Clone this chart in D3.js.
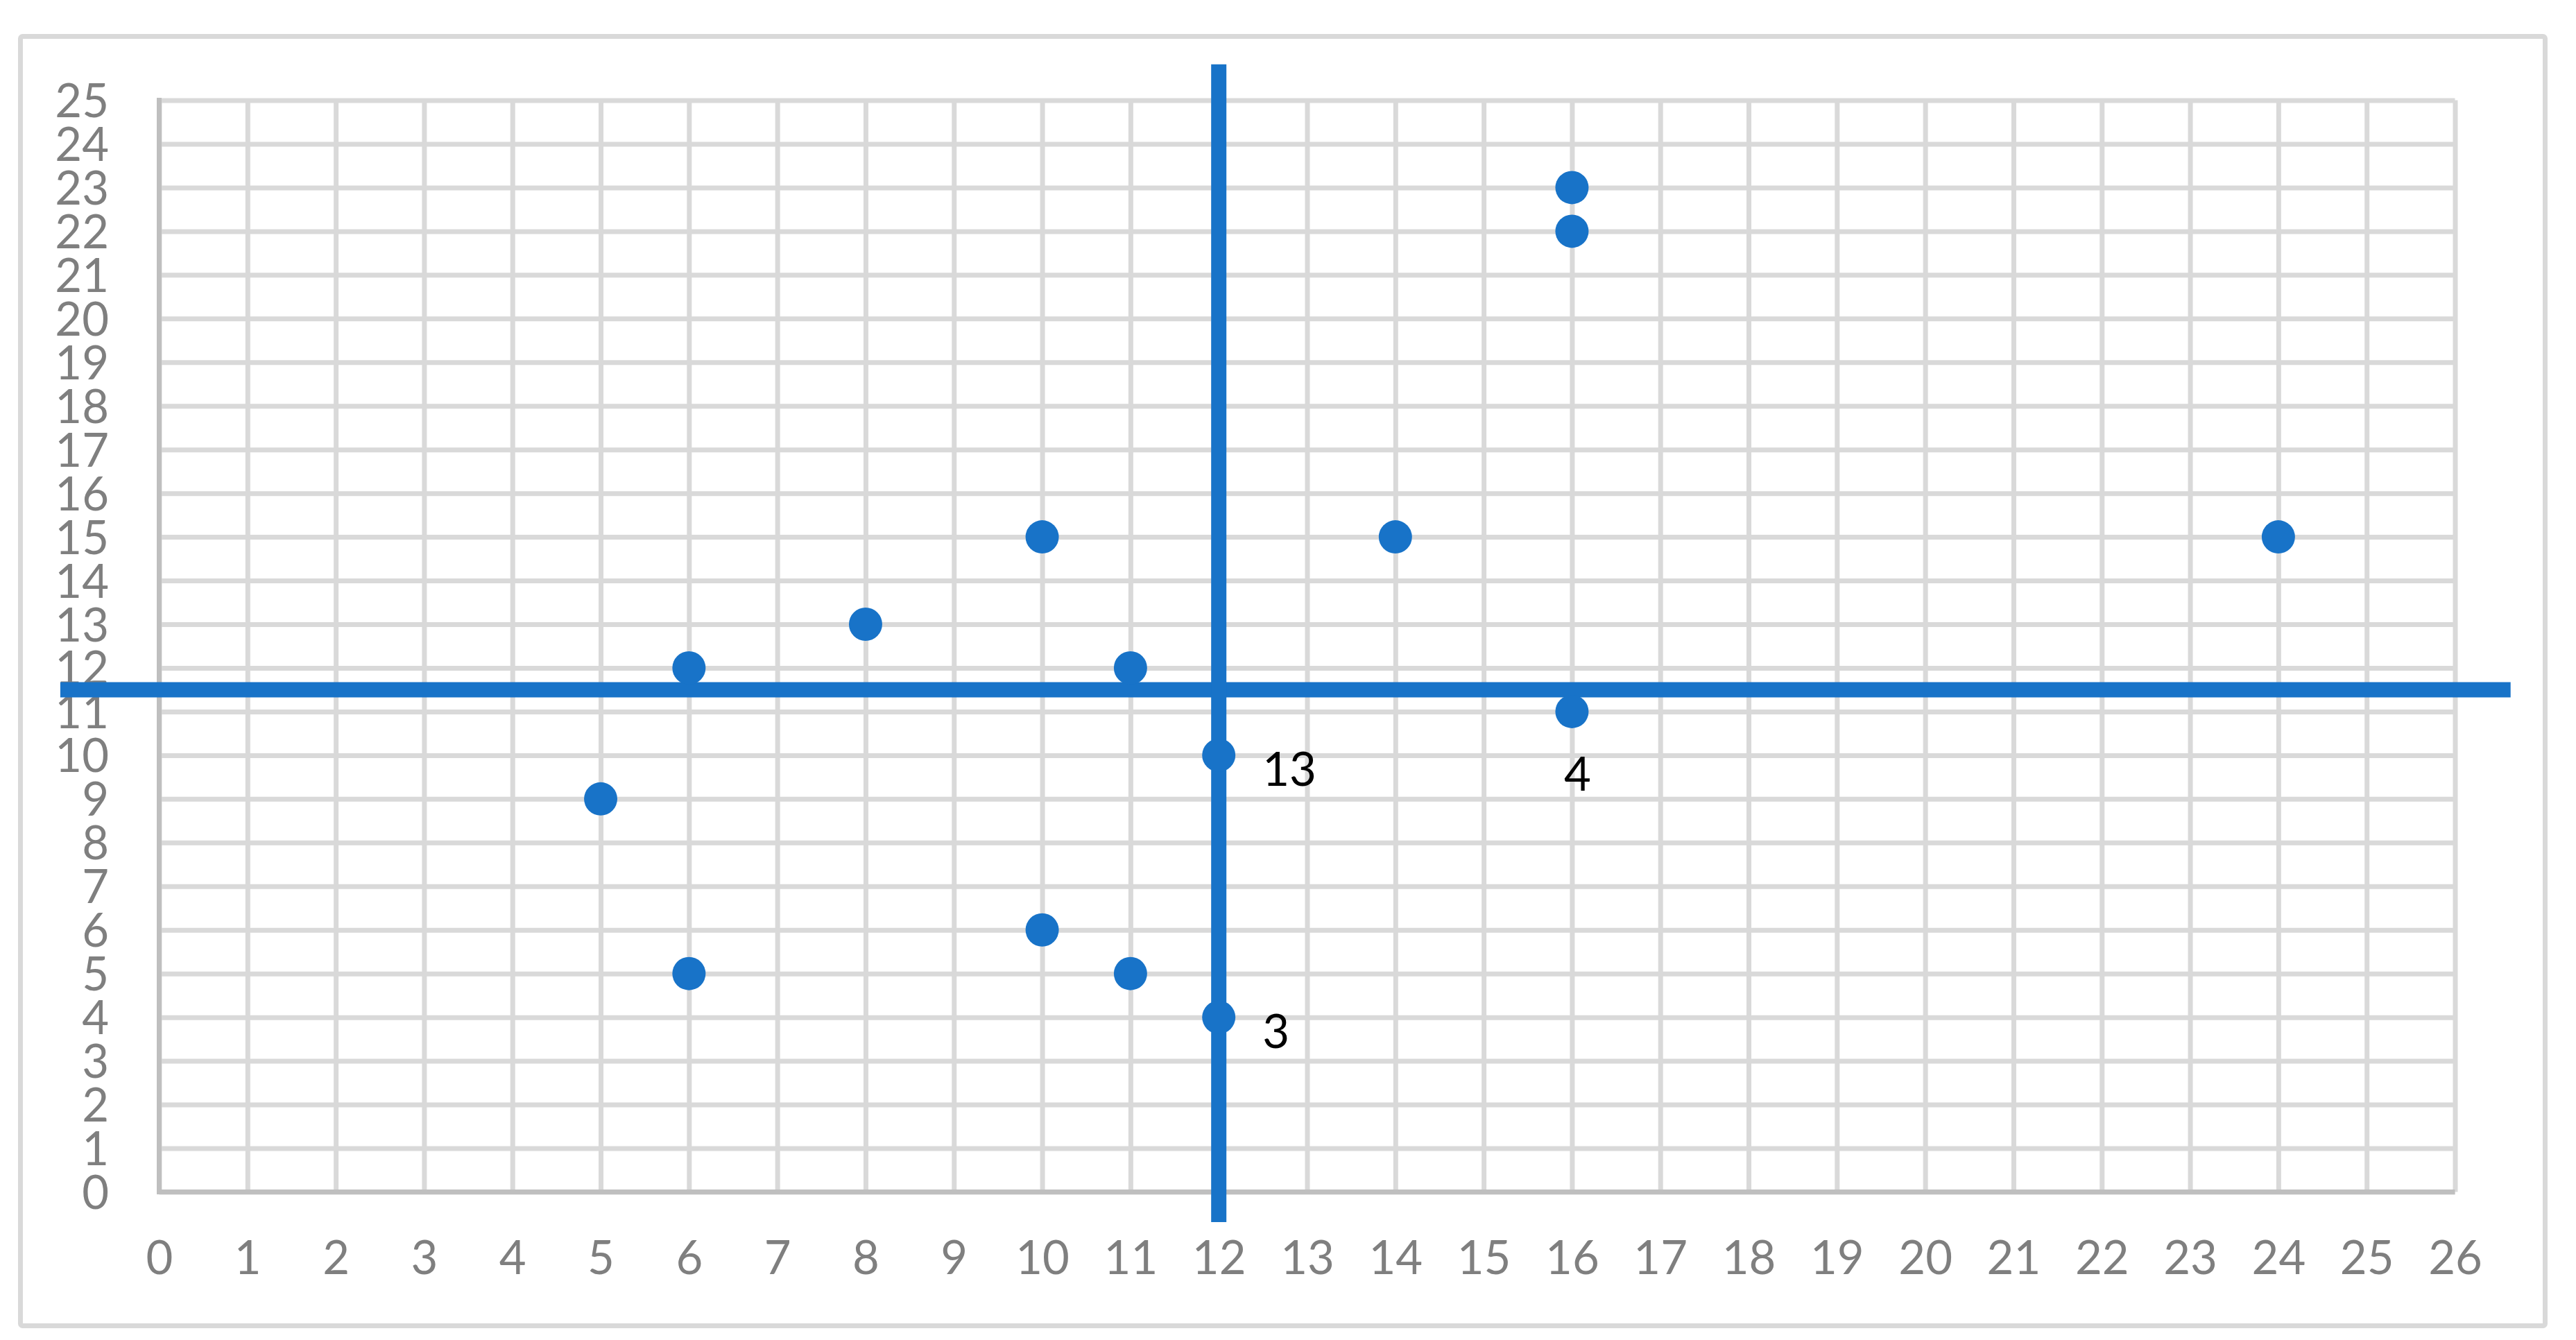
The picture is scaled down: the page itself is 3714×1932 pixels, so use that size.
<!DOCTYPE html>
<html>
<head>
<meta charset="utf-8">
<script src="https://cdn.jsdelivr.net/npm/d3@7"></script>
<style>
  html, body { margin: 0; padding: 0; background: #ffffff; }
  svg { display: block; }
</style>
</head>
<body>
<script>
// ---- data ----
const xValues = [5, 6, 6, 8, 10, 10, 11, 11, 12, 12, 14, 16, 16, 16, 24];
const yValues = [9, 12, 5, 13, 15, 6, 12, 5, 10, 4, 15, 23, 22, 11, 15];
const xTicks = d3.range(0, 27);
const yTicks = d3.range(0, 26);
const verticalLine = [[12, 25.82], [12, -0.69]];
const horizontalLine = [[-1.12, 11.5], [26.63, 11.5]];
const labelPoints = [[12, 10], [12, 4], [16, 11]];
const labelTexts = ["13", "3", "4"];
const labelSides = ["right", "right", "below"];

// ---- layout ----
const W = 3714, H = 1932;
const blue = "#1873C8";
const svg = d3.select("body").append("svg").attr("width", W).attr("height", H);

svg.append("rect").attr("x", 29.5).attr("y", 52.5).attr("width", 3640).attr("height", 1859)
  .attr("rx", 3).attr("fill", "#fff").attr("stroke", "#D9D9D9").attr("stroke-width", 7);

const x = d3.scaleLinear().domain([0, 26]).range([229.5, 3539.5]);
const y = d3.scaleLinear().domain([0, 25]).range([1718.5, 144.5]);

// gridlines
const gx = svg.append("g").attr("transform", `translate(0,${y(0)})`)
  .call(d3.axisBottom(x).tickValues(xTicks).tickSize(-(y(0) - y(25))).tickFormat(""));
gx.selectAll(".tick line").attr("stroke", "#D9D9D9").attr("stroke-width", 7);
gx.select(".domain").remove();

const gy = svg.append("g").attr("transform", `translate(${x(0)},0)`)
  .call(d3.axisLeft(y).tickValues(yTicks).tickSize(-(x(26) - x(0))).tickFormat(""));
gy.selectAll(".tick line").attr("stroke", "#D9D9D9").attr("stroke-width", 7);
gy.select(".domain").remove();

// axis lines
svg.append("line").attr("x1", x(0)).attr("x2", x(0)).attr("y1", y(25) - 3.5).attr("y2", y(0) + 3.5)
  .attr("stroke", "#BFBFBF").attr("stroke-width", 7);
svg.append("line").attr("x1", x(0) - 3.5).attr("x2", x(26)).attr("y1", y(0)).attr("y2", y(0))
  .attr("stroke", "#BFBFBF").attr("stroke-width", 7);

// tick labels
const font = "Lato, 'Open Sans', sans-serif";
const fs = 67;
const xl = svg.append("g").attr("transform", `translate(0,${y(0)})`)
  .call(d3.axisBottom(x).tickValues(xTicks).tickSize(0).tickPadding(0).tickFormat(d3.format("d")));
xl.select(".domain").remove();
xl.selectAll("text").attr("y", 118.5).attr("dy", null)
  .attr("font-family", font).attr("font-size", fs).attr("fill", "#7F7F7F");

const yl = svg.append("g").attr("transform", `translate(${x(0)},0)`)
  .call(d3.axisLeft(y).tickValues(yTicks).tickSize(0).tickPadding(72.5).tickFormat(d3.format("d")));
yl.select(".domain").remove();
yl.selectAll("text").attr("dy", null).attr("y", 24)
  .attr("font-family", font).attr("font-size", fs).attr("fill", "#7F7F7F");

// blue lines
const line = d3.line().x(d => x(d[0])).y(d => y(d[1]));
svg.append("path").attr("d", line(horizontalLine)).attr("stroke", blue).attr("stroke-width", 22).attr("fill", "none");
svg.append("path").attr("d", line(verticalLine)).attr("stroke", blue).attr("stroke-width", 22).attr("fill", "none");

// points
svg.append("g").selectAll("circle").data(xValues.map((v, i) => [v, yValues[i]])).join("circle")
  .attr("cx", d => x(d[0])).attr("cy", d => y(d[1])).attr("r", 24).attr("fill", blue);

// data labels
svg.append("g").selectAll("text").data(labelPoints).join("text")
  .attr("x", (d, i) => labelSides[i] === "right" ? x(d[0]) + 63 : x(d[0]) + 8)
  .attr("y", (d, i) => labelSides[i] === "right" ? y(d[1]) + 44 : y(d[1]) + 114)
  .attr("text-anchor", (d, i) => labelSides[i] === "right" ? "start" : "middle")
  .attr("font-family", font).attr("font-size", fs).attr("fill", "#000")
  .text((d, i) => labelTexts[i]);
</script>
</body>
</html>
